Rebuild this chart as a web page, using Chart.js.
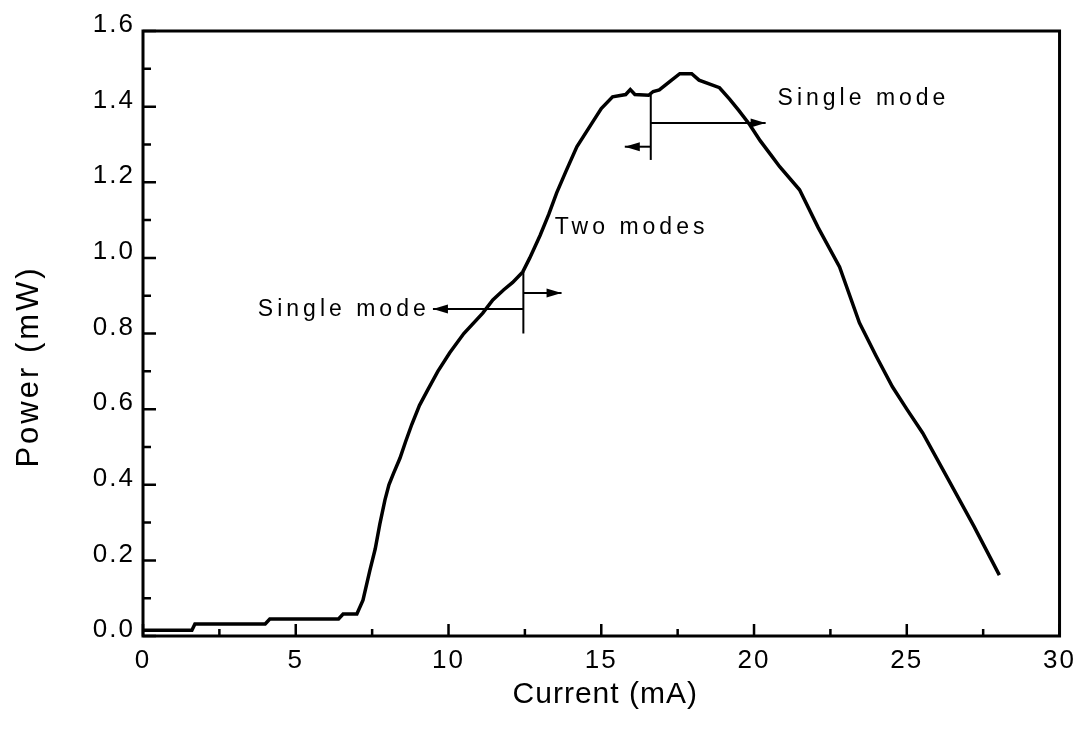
<!DOCTYPE html>
<html>
<head>
<meta charset="utf-8">
<script src="https://cdn.jsdelivr.net/npm/chart.js@4/dist/chart.umd.min.js"></script>
<style>
  html, body { margin: 0; padding: 0; background: #ffffff; }
  #wrap { width: 1083px; height: 733px; position: relative; }
</style>
</head>
<body>
<div id="wrap"><canvas id="chart" width="1083" height="733"></canvas></div>
<script>
// Light-current characteristic of the laser
const currentMA = [
  0, 1.6, 1.7, 4.0, 4.15, 6.4, 6.55, 7.0, 7.2, 7.43, 7.6, 7.75, 7.92, 8.05, 8.2,
  8.41, 8.6, 8.8, 9.05, 9.32, 9.65, 10.04, 10.5, 11.12, 11.45, 11.8, 12.1,
  12.43, 12.66, 13.0, 13.28, 13.54, 13.85, 14.2, 14.7, 15.0, 15.37, 15.8, 15.95,
  16.1, 16.55, 16.7, 16.9, 17.24, 17.57, 17.96, 18.2, 18.87, 19.2, 19.5, 19.86,
  20.2, 20.6, 20.84, 21.49, 22.1, 22.8, 23.45, 24.0, 24.53, 25.0, 25.52, 26.33,
  27.2, 28.03
];
const powerMW = [
  0.015, 0.015, 0.032, 0.032, 0.045, 0.045, 0.058, 0.058, 0.095, 0.175, 0.23,
  0.295, 0.36, 0.40, 0.43, 0.47, 0.515, 0.56, 0.61, 0.651, 0.70, 0.749, 0.80,
  0.854, 0.889, 0.915, 0.935, 0.963, 1.0, 1.06, 1.115, 1.172, 1.23, 1.294, 1.357,
  1.395, 1.426, 1.432, 1.445, 1.432, 1.43, 1.44, 1.444, 1.466, 1.487, 1.487, 1.47,
  1.45, 1.42, 1.39, 1.352, 1.31, 1.267, 1.241, 1.18, 1.08, 0.976, 0.828, 0.74,
  0.659, 0.60, 0.537, 0.418, 0.29, 0.161
];

const xTickValues = [0, 5, 10, 15, 20, 25, 30];
const xMinorTicks = [2.5, 7.5, 12.5, 17.5, 22.5, 27.5];
const yTickValues = [0, 0.2, 0.4, 0.6, 0.8, 1.0, 1.2, 1.4, 1.6];
const yMinorTicks = [0.1, 0.3, 0.5, 0.7, 0.9, 1.1, 1.3, 1.5];

const xTitle = 'Current (mA)';
const yTitle = 'Power (mW)';

// Mode-boundary brackets: segments in data units, optional arrow at the end point
const boundarySegments = [
  { x1: 12.45, y1: 0.963, x2: 12.45, y2: 0.80,  arrow: false },
  { x1: 12.45, y1: 0.865, x2: 9.49,  y2: 0.865, arrow: true },
  { x1: 12.45, y1: 0.907, x2: 13.7,  y2: 0.907, arrow: true },
  { x1: 16.62, y1: 1.431, x2: 16.62, y2: 1.259, arrow: false },
  { x1: 16.62, y1: 1.357, x2: 20.38, y2: 1.357, arrow: true },
  { x1: 16.62, y1: 1.294, x2: 15.77, y2: 1.294, arrow: true }
];
const modeLabels = [
  { text: 'Single mode', x: 3.76,  y: 0.847 },
  { text: 'Two modes',   x: 13.48, y: 1.064 },
  { text: 'Single mode', x: 20.77, y: 1.405 }
];

const FONT = '"Liberation Sans", Arial, Helvetica, sans-serif';

const axesPlugin = {
  id: 'axesDecor',
  beforeDraw(chart) {
    chart.ctx.letterSpacing = '2px';
  },
  afterDraw(chart) {
    const ctx = chart.ctx;
    const { left, right, top, bottom } = chart.chartArea;
    const xs = chart.scales.x, ys = chart.scales.y;
    ctx.save();
    ctx.letterSpacing = '0px';
    ctx.strokeStyle = '#000';
    ctx.fillStyle = '#000';

    // inward tick marks on the bottom and left axes
    ctx.lineWidth = 2.5;
    ctx.beginPath();
    xTickValues.forEach(v => { const p = xs.getPixelForValue(v); ctx.moveTo(p, bottom); ctx.lineTo(p, bottom - 12); });
    xMinorTicks.forEach(v => { const p = xs.getPixelForValue(v); ctx.moveTo(p, bottom); ctx.lineTo(p, bottom - 7); });
    yTickValues.forEach(v => { const p = ys.getPixelForValue(v); ctx.moveTo(left, p); ctx.lineTo(left + 13, p); });
    yMinorTicks.forEach(v => { const p = ys.getPixelForValue(v); ctx.moveTo(left, p); ctx.lineTo(left + 8, p); });
    ctx.stroke();

    // plot frame
    ctx.lineWidth = 3;
    ctx.strokeRect(left, top, right - left, bottom - top);

    // bracket lines and arrows
    ctx.lineWidth = 2;
    boundarySegments.forEach(s => {
      const x1 = xs.getPixelForValue(s.x1), y1 = ys.getPixelForValue(s.y1);
      const x2 = xs.getPixelForValue(s.x2), y2 = ys.getPixelForValue(s.y2);
      ctx.beginPath();
      ctx.moveTo(x1, y1);
      ctx.lineTo(x2, y2);
      ctx.stroke();
      if (s.arrow) {
        const a = Math.atan2(y2 - y1, x2 - x1);
        const len = 15, hw = 4.5;
        ctx.beginPath();
        ctx.moveTo(x2, y2);
        ctx.lineTo(x2 - len * Math.cos(a) + hw * Math.sin(a), y2 - len * Math.sin(a) - hw * Math.cos(a));
        ctx.lineTo(x2 - len * Math.cos(a) - hw * Math.sin(a), y2 - len * Math.sin(a) + hw * Math.cos(a));
        ctx.closePath();
        ctx.fill();
      }
    });

    // mode labels
    ctx.font = '23px ' + FONT;
    ctx.letterSpacing = '4px';
    ctx.textAlign = 'left';
    ctx.textBaseline = 'alphabetic';
    modeLabels.forEach(l => {
      ctx.fillText(l.text, xs.getPixelForValue(l.x), ys.getPixelForValue(l.y));
    });

    // axis titles
    ctx.font = '30px ' + FONT;
    ctx.letterSpacing = '1px';
    ctx.textAlign = 'center';
    ctx.fillText(xTitle, (left + right) / 2 + 4, 703);

    ctx.save();
    ctx.translate(38, (top + bottom) / 2 + 33);
    ctx.rotate(-Math.PI / 2);
    ctx.font = '31px ' + FONT;
    ctx.letterSpacing = '3px';
    ctx.fillText(yTitle, 0, 0);
    ctx.restore();

    ctx.restore();
  }
};

new Chart(document.getElementById('chart'), {
  type: 'scatter',
  data: {
    datasets: [{
      data: currentMA.map((c, i) => ({ x: c, y: powerMW[i] })),
      showLine: true,
      borderColor: '#000',
      borderWidth: 3.5,
      pointRadius: 0,
      tension: 0,
      fill: false
    }]
  },
  options: {
    responsive: false,
    animation: false,
    devicePixelRatio: 1,
    layout: { padding: { top: 31, right: 23, left: 0, bottom: 0 } },
    plugins: { legend: { display: false }, tooltip: { enabled: false } },
    scales: {
      x: {
        type: 'linear',
        min: 0, max: 30,
        afterBuildTicks: s => { s.ticks = xTickValues.map(v => ({ value: v })); },
        afterFit: s => { s.height = 97; },
        grid: { display: false, drawTicks: false },
        border: { display: false },
        ticks: {
          color: '#000',
          font: { family: FONT, size: 26 },
          padding: 9,
          maxRotation: 0,
          callback: v => String(v)
        }
      },
      y: {
        type: 'linear',
        min: 0, max: 1.6,
        afterBuildTicks: s => { s.ticks = yTickValues.map(v => ({ value: v })); },
        afterFit: s => { s.width = 143; },
        grid: { display: false, drawTicks: false },
        border: { display: false },
        ticks: {
          color: '#000',
          font: { family: FONT, size: 26 },
          padding: 8,
          labelOffset: -6,
          callback: v => Number(v).toFixed(1)
        }
      }
    }
  },
  plugins: [axesPlugin]
});
</script>
</body>
</html>
